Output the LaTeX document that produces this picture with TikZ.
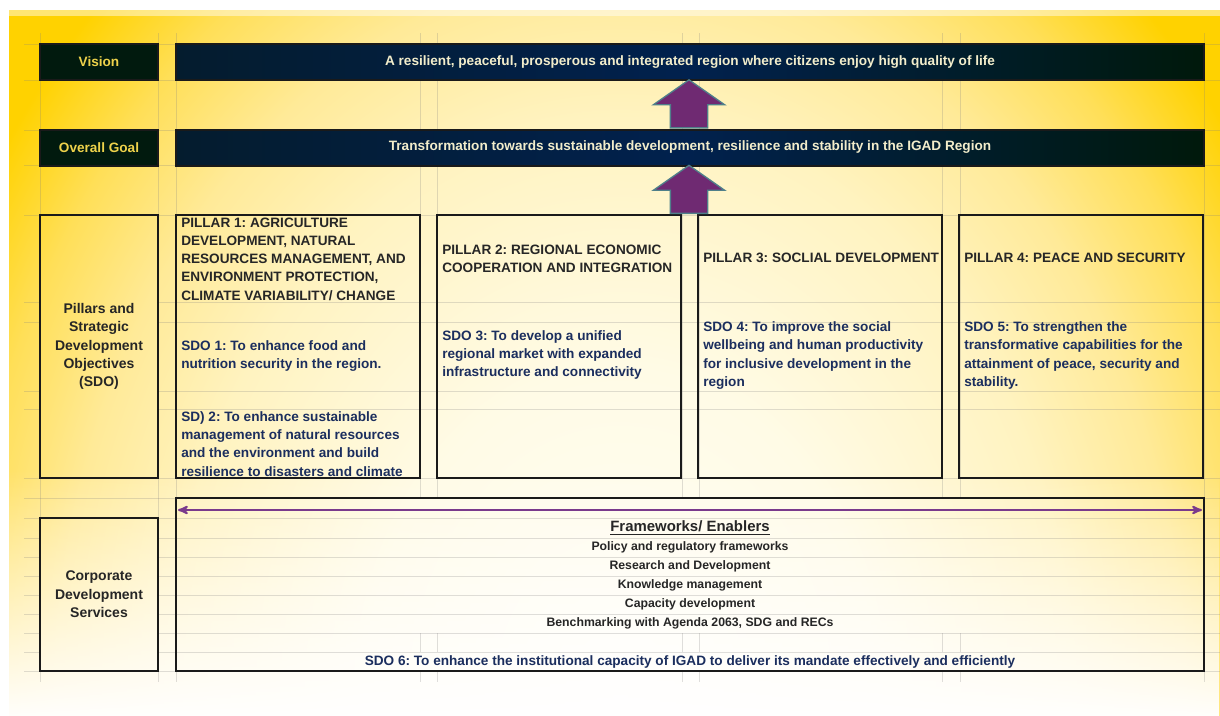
\documentclass[tikz,border=0pt]{standalone}
\usepackage{fontspec}
\setmainfont{Liberation Sans}
\usepackage{tikz}
\usetikzlibrary{arrows,shapes.arrows,fadings}
\frenchspacing

\definecolor{gold}{HTML}{FFD200}
\definecolor{glowA}{HTML}{FFFEF6}
\definecolor{glowB}{HTML}{FFFBE6}
\definecolor{glowC}{HTML}{FFF3C0}
\definecolor{glowD}{HTML}{FFEA98}
\definecolor{glowE}{HTML}{FFDF58}
\definecolor{boxline}{HTML}{1A1A1A}
\definecolor{labelfill}{HTML}{011A0E}
\definecolor{labeltext}{HTML}{EED24B}
\definecolor{navyA}{HTML}{041C2E}
\definecolor{navyB}{HTML}{01214E}
\definecolor{navyC}{HTML}{00190B}
\definecolor{bannertext}{HTML}{F2EDCB}
\definecolor{titlegrey}{HTML}{262626}
\definecolor{sdoblue}{HTML}{1B2E5E}
\definecolor{arrowfill}{HTML}{6F2A72}
\definecolor{arrowedge}{HTML}{4F7F8A}
\definecolor{spreadpurple}{HTML}{7A3A8C}

\pgfdeclareradialshading{panelglow}{\pgfpoint{0bp}{0bp}}{color(0bp)=(glowA); color(8.5bp)=(glowB); color(15bp)=(glowC); color(18.75bp)=(glowD); color(22bp)=(glowE); color(25bp)=(gold); color(50bp)=(gold)}

\newcommand\bodyfont{\bfseries\fontsize{10.2}{13.65}\selectfont}
\newcommand\sidefont{\bfseries\fontsize{10.5}{13.8}\selectfont}
\newcommand\smallfont{\bfseries\fontsize{9.2}{11}\selectfont}
\newcommand\fwfont{\bfseries\fontsize{11.2}{13}\selectfont}

\begin{document}
\begin{tikzpicture}[x=0.75pt,y=-0.75pt,>=stealth',node distance=195.75pt]
  \tikzstyle{grid}=[draw=black!50,opacity=0.25,line width=0.75pt]
  \tikzstyle{head}=[draw=boxline,line width=1.5pt,fill=labelfill,text=labeltext,
                    minimum width=88.5pt,minimum height=27pt,inner sep=0pt,font=\bodyfont]
  \tikzstyle{banner}=[draw=boxline,line width=1.5pt,left color=navyA,right color=navyC,
                      middle color=navyB,text=bannertext,minimum width=771pt,
                      minimum height=27pt,inner sep=0pt,font=\bodyfont]
  \tikzstyle{side}=[draw=boxline,line width=1.5pt,minimum width=88.5pt,align=center,
                    inner sep=0pt,text=titlegrey,font=\sidefont]
  \tikzstyle{pillar}=[draw=boxline,line width=1.5pt,minimum width=183pt,
                      minimum height=197.25pt,inner sep=0pt]
  \tikzstyle{ptitle}=[anchor=west,align=left,inner sep=0pt,text=titlegrey,font=\bodyfont]
  \tikzstyle{sdo}=[ptitle,text=sdoblue]
  \tikzstyle{upblock}=[single arrow,draw=arrowedge,fill=arrowfill,line width=1pt,
                       minimum width=52.5pt,minimum height=36pt,inner xsep=0pt,
                       inner ysep=13.5pt,single arrow head extend=12.75pt,
                       single arrow tip angle=110,rotate=90,anchor=tail]
  \tikzstyle{enabler}=[text=titlegrey,font=\smallfont,inner sep=0pt,node distance=14.25pt]

  \useasboundingbox (0,0) rectangle (1220,715);

  % panel
  \fill[white] (0,0) rectangle (1220,715);
  \fill[gold] (9,10) rectangle (1220,722);
  \begin{scope}
    \clip (9,10) rectangle (1220,722);
    \shade[shading=panelglow] (620,700) ellipse (750 and 970);
  \end{scope}
  \fill[white,path fading=north] (9,470) rectangle (1220,722);
  \fill[white,opacity=0.45] (9,10) rectangle (1220,16);

  % sheet lines
  \foreach \gx in {40,158,176,1204}
    \draw[grid] (\gx,33) -- (\gx,682);
  \foreach \gx in {420,437,682,699,942,960}
    \draw[grid] (\gx,33) -- (\gx,498) (\gx,633) -- (\gx,652) (\gx,671) -- (\gx,682);
  \foreach \gy in {44,80,130,165,215,478,498,518,671}
    \draw[grid] (24,\gy) -- (1220,\gy);
  \foreach \gy in {302,322,391,409,538,557,576,595,614,633,652}
    \draw[grid] (24,\gy) -- (40,\gy) (158,\gy) -- (1220,\gy);

  \node[head]   (vis)   at (99,62)    {Vision};
  \node[banner] (visb)  at (690,62)   {A resilient, peaceful, prosperous and integrated region where citizens enjoy high quality of life};
  \node[head]   (goal)  at (99,147.5) {Overall Goal};
  \node[banner] (goalb) at (690,147.5) {Transformation towards sustainable development, resilience and stability in the IGAD Region};

  \node[side,minimum height=197.25pt] (pil) at (99,346.5) {Pillars and\\Strategic\\Development\\Objectives\\(SDO)};
  \node[pillar] (p1) at (298,346.5) {};
  \node[pillar] (p2) [right of=p1] {};
  \node[pillar] (p3) [right of=p2] {};
  \node[pillar] (p4) [right of=p3] {};

  \node[upblock] (up1) at (goalb.north -| 689,0) {};
  \node[upblock] (up2) at (p2.north -| 689,0)    {};

  % pillar texts
  \node[ptitle] (t1) at (181,259) {PILLAR 1: AGRICULTURE\\DEVELOPMENT, NATURAL\\RESOURCES MANAGEMENT, AND\\ENVIRONMENT PROTECTION,\\CLIMATE VARIABILITY/ CHANGE};
  \node[sdo]    (s1) at (181,356) {SDO 1: To enhance food and\\nutrition security in the region.};
  \node[sdo]    (s2) at (181,444) {SD) 2: To enhance sustainable\\management of natural resources\\and the environment and build\\resilience to disasters and climate};
  \node[ptitle] (t2) at (442,259) {PILLAR 2: REGIONAL ECONOMIC\\COOPERATION AND INTEGRATION};
  \node[sdo]    (s3) at (442,355) {SDO 3: To develop a unified\\regional market with expanded\\infrastructure and connectivity};
  \node[ptitle] (t3) at (703,258) {PILLAR 3: SOCLIAL DEVELOPMENT};
  \node[sdo]    (s4) at (703,355.5) {SDO 4: To improve the social\\wellbeing and human productivity\\for inclusive development in the\\region};
  \node[ptitle] (t4) at (964,258) {PILLAR 4: PEACE AND SECURITY};
  \node[sdo]    (s5) at (964,355.5) {SDO 5: To strengthen the\\transformative capabilities for the\\attainment of peace, security and\\stability.};

  % corporate services
  \node[side,minimum height=114.75pt] (cds) at (99,594.5) {Corporate\\Development\\Services};
  \node[pillar,minimum width=771pt,minimum height=129.75pt] (fw) at (690,584.5) {};
  \coordinate (ea) at (178,510);
  \coordinate (eb) at (1202,510);
  \draw[<->,draw=spreadpurple,line width=1.5pt] (ea) -- (eb);

  \node[enabler,font=\fwfont] (fwt) at (690,528) {\underline{Frameworks/ Enablers}};
  \node[enabler] (pol)  [below of=fwt,node distance=14.6pt] {Policy and regulatory frameworks};
  \node[enabler] (rnd)  [below of=pol]  {Research and Development};
  \node[enabler] (km)   [below of=rnd]  {Knowledge management};
  \node[enabler] (cap)  [below of=km]   {Capacity development};
  \node[enabler] (bm)   [below of=cap]  {Benchmarking with Agenda 2063, SDG and RECs};
  \node[sdo,anchor=center] (s6) at (690,661.5) {SDO 6: To enhance the institutional capacity of IGAD to deliver its mandate effectively and efficiently};
\end{tikzpicture}
\end{document}
